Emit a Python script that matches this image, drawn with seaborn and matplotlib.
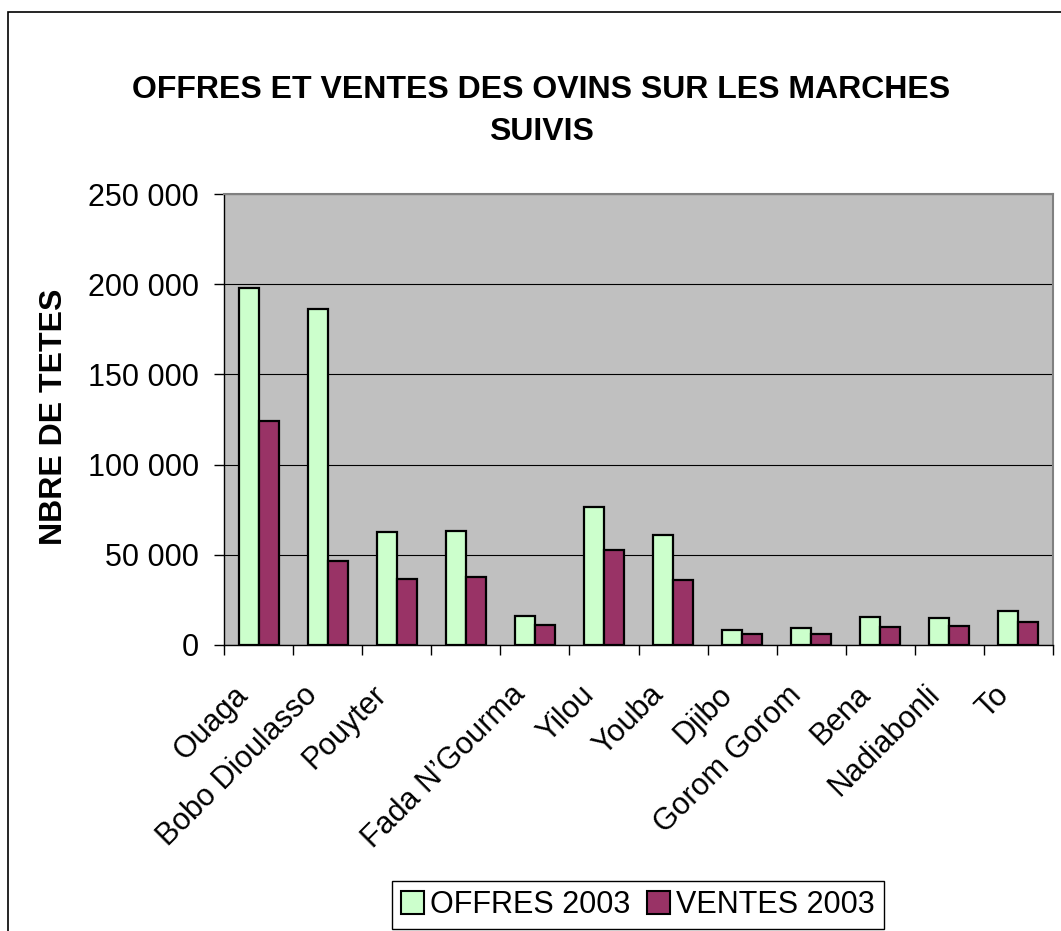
import numpy as np
import pandas as pd
import matplotlib.pyplot as plt
import seaborn as sns
from matplotlib.patches import Patch, Rectangle
from matplotlib.ticker import FuncFormatter
from matplotlib.transforms import ScaledTranslation

markets = ["Ouaga", "Bobo Dioulasso", "Pouyter", "", "Fada N\u2019Gourma", "Yilou",
           "Youba", "Djibo", "Gorom Gorom", "Bena", "Nadiabonli", "To"]
offres = [198000, 186500, 62500, 63000, 16100, 76300, 61000, 8300, 9200, 15300, 15000, 18800]
ventes = [124000, 46600, 36400, 37700, 10900, 52700, 36000, 5900, 6300, 10000, 10500, 12600]
series = ["OFFRES 2003", "VENTES 2003"]
colors = ["#CCFFCC", "#993366"]
title = "OFFRES ET VENTES DES OVINS SUR LES MARCHES\nSUIVIS"
ylabel = "NBRE DE TETES"

df = pd.DataFrame({
    "marche": markets * 2,
    "tetes": offres + ventes,
    "serie": [series[0]] * len(markets) + [series[1]] * len(markets),
})

sns.set_theme(style="white")
plt.rcParams['font.family'] = ['Liberation Sans', 'DejaVu Sans']
plt.rcParams['text.color'] = 'black'
plt.rcParams['xtick.color'] = 'black'
plt.rcParams['ytick.color'] = 'black'

W, H = 1061, 931
fig = plt.figure(figsize=(W / 100, H / 100), dpi=100)
ax = fig.add_axes([224 / W, 1 - 645 / H, (1053 - 224) / W, (645 - 194) / H])

sns.barplot(data=df, x="marche", y="tetes", hue="serie", order=markets,
            palette=colors, saturation=1, width=0.58, edgecolor="black",
            linewidth=1.6, ax=ax, legend=False)

ax.set_facecolor("#C0C0C0")
ax.set_xlim(-0.5, len(markets) - 0.5)
ax.set_ylim(0, 250000)
ax.set_yticks(range(0, 250001, 50000))
ax.yaxis.set_major_formatter(FuncFormatter(lambda v, p: f"{int(v):,}".replace(",", " ")))
ax.grid(axis="y", color="black", linewidth=0.8)
ax.set_axisbelow(True)
ax.set_xlabel("")
ax.set_ylabel("")

for s in ["left", "bottom"]:
    ax.spines[s].set_color("black")
    ax.spines[s].set_linewidth(1.0)
for s in ["top", "right"]:
    ax.spines[s].set_color("#808080")
    ax.spines[s].set_linewidth(1.5)

ax.set_xticks(range(len(markets)))
ax.set_xticklabels(markets, rotation=45, ha="right", va="top", rotation_mode="anchor")
ax.set_xticks(np.arange(-0.5, len(markets), 1), minor=True)
ax.tick_params(axis="x", which="major", length=0, pad=25, labelsize=22)
ax.tick_params(axis="x", which="minor", length=7, width=1, color="black", direction="out", bottom=True)
ax.tick_params(axis="y", length=7, width=1, color="black", direction="out", left=True,
               labelsize=22, pad=11)
shift = ScaledTranslation(-0.25, 0, fig.dpi_scale_trans)
for lab in ax.get_xticklabels():
    lab.set_transform(lab.get_transform() + shift)

fig.text(0.51, 1 - 111 / H, title, ha="center", va="center", fontsize=23,
         fontweight="bold", linespacing=1.5)
fig.text(54 / W, 1 - 417 / H, ylabel, ha="center", va="center", rotation=90,
         fontsize=23, fontweight="bold")

handles = [Patch(facecolor=c, edgecolor="black", linewidth=1.5) for c in colors]
leg = fig.legend(handles, series, loc="center", bbox_to_anchor=(638 / W, 1 - 905 / H),
                 ncol=2, fontsize=22, frameon=True, fancybox=False, framealpha=1,
                 edgecolor="black", handlelength=0.75, handleheight=0.75,
                 handletextpad=0.2, columnspacing=0.55, borderpad=0.3, borderaxespad=0)
leg.get_frame().set_linewidth(1.0)

fig.patches.append(Rectangle((8 / W, -0.1), 1.2, 1 - 12 / H + 0.1, transform=fig.transFigure,
                             fill=False, edgecolor="black", linewidth=1.2))

fig.savefig("out.png", dpi=100)
